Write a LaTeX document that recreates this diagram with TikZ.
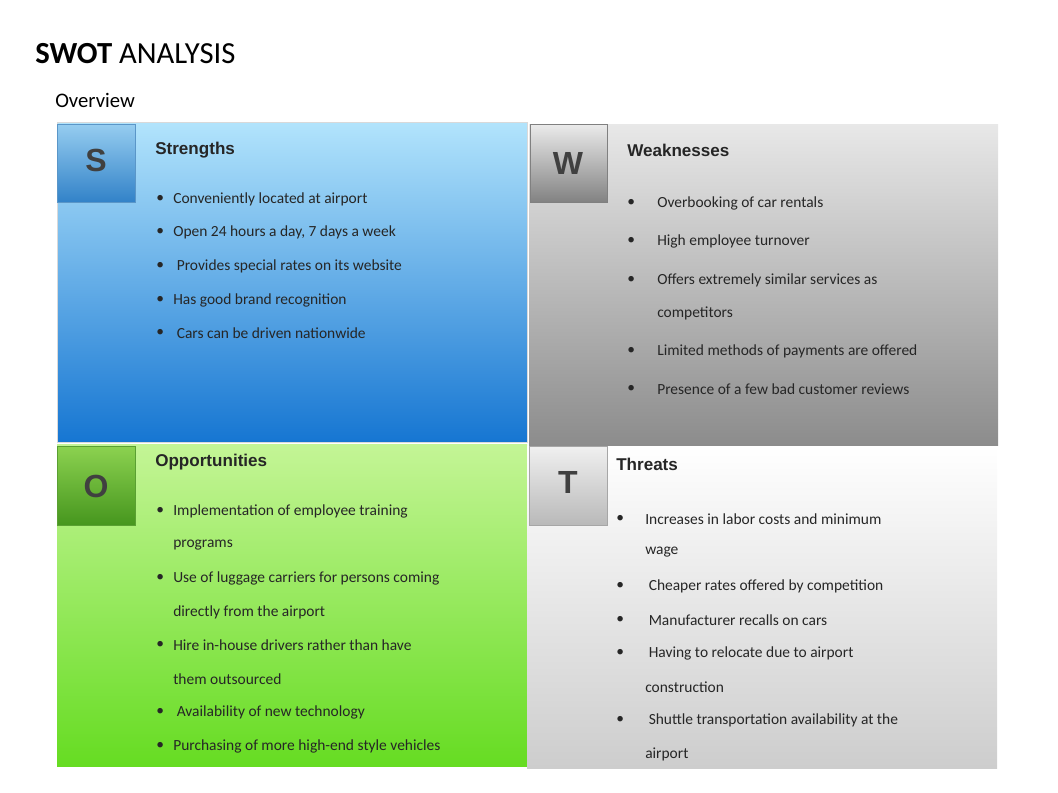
\documentclass[tikz,border=0pt]{standalone}
\usepackage{fontspec}
\setmainfont{Carlito}
\newfontfamily\arial{Liberation Sans}
\begin{document}
\begin{tikzpicture}[x=0.75pt,y=-0.75pt,
  txt/.style={anchor=west,inner sep=0pt,font=\fontsize{11.6}{13}\selectfont,text=black!85},
  hd/.style={anchor=west,inner sep=0pt,font=\arial\bfseries\fontsize{12.8}{14}\selectfont,text=black!85},
  letter/.style={font=\arial\bfseries\fontsize{24}{26}\selectfont,text=black!75}]
\useasboundingbox (0,0) rectangle (1058,793);
% quadrants
\shade[top color={rgb,255:red,178;green,228;blue,252},bottom color={rgb,255:red,22;green,118;blue,210},draw=white!85!black] (57,122) rectangle (527,442);
\shade[top color={rgb,255:red,232;green,232;blue,232},bottom color={rgb,255:red,140;green,140;blue,140}] (529,124) rectangle (998,445);
\shade[top color={rgb,255:red,196;green,245;blue,150},bottom color={rgb,255:red,102;green,220;blue,34}] (57,444) rectangle (527,766);
\shade[top color=white,bottom color={rgb,255:red,205;green,205;blue,205}] (527,446) rectangle (997,768);
% letter boxes
\shade[top color={rgb,255:red,150;green,205;blue,240},bottom color={rgb,255:red,50;green,130;blue,200},draw={rgb,255:red,90;green,150;blue,200}] (57,124) rectangle (135,202);
\shade[top color={rgb,255:red,235;green,235;blue,235},bottom color={rgb,255:red,130;green,130;blue,130},draw=gray] (530,124) rectangle (607,202);
\shade[top color={rgb,255:red,140;green,210;blue,80},bottom color={rgb,255:red,70;green,150;blue,30},draw={rgb,255:red,90;green,160;blue,50}] (57,446) rectangle (135,525);
\shade[top color={rgb,255:red,240;green,240;blue,240},bottom color={rgb,255:red,185;green,185;blue,185},draw=gray!70] (529,446) rectangle (607,525);
\node[letter] (ls) at (96,160) {S};
\node[letter] (lw) at (568,163) {W};
\node[letter] (lo) at (96,486) {O};
\node[letter] (lt) at (568,482) {T};
% title
\node[anchor=west,inner sep=0pt,font=\fontsize{23}{26}\selectfont] (title) at (35,54) {\textbf{SWOT} ANALYSIS};
\node[anchor=west,inner sep=0pt,font=\fontsize{15.5}{18}\selectfont] (ov) at (55,100) {Overview};
% headings
\node[hd] (hs) at (155,150) {Strengths};
\node[hd] (hw) at (627,150) {Weaknesses};
\node[hd] (ho) at (155,462) {Opportunities};
\node[hd] (ht) at (616,464) {Threats};
% S
\foreach \y/\t [count=\i] in {199/Conveniently located at airport,232/{Open 24 hours a day, 7 days a week},266/{\ Provides special rates on its website},300/Has good brand recognition,333/{\ Cars can be driven nationwide}}{
  \node[txt] (sb\i) at (156,\y) {•};
  \node[txt] (s\i) at (173,\y) {\t};}
% W
\foreach \y/\t [count=\i] in {203/Overbooking of car rentals,241/High employee turnover,280/Offers extremely similar services as,351/Limited methods of payments are offered,389/Presence of a few bad customer reviews}{
  \node[txt] (wb\i) at (627,\y) {•};
  \node[txt] (w\i) at (657,\y) {\t};}
\node[txt] (w3b) at (657,313) {competitors};
% O
\foreach \y/\t [count=\i] in {511/Implementation of employee training,578/Use of luggage carriers for persons coming,645/Hire in-house drivers rather than have,712/{\ Availability of new technology},746/Purchasing of more high-end style vehicles}{
  \node[txt] (ob\i) at (156,\y) {•};
  \node[txt] (o\i) at (173,\y) {\t};}
\node[txt] (o1b) at (173,545) {programs};
\node[txt] (o2b) at (173,612) {directly from the airport};
\node[txt] (o3b) at (173,679) {them outsourced};
% T
\foreach \y/\t [count=\i] in {519/Increases in labor costs and minimum,586/{\ Cheaper rates offered by competition},620/{\ Manufacturer recalls on cars},653/{\ Having to relocate due to airport},720/{\ Shuttle transportation availability at the}}{
  \node[txt] (tb\i) at (616,\y) {•};
  \node[txt] (t\i) at (645,\y) {\t};}
\node[txt] (t1b) at (645,552) {wage};
\node[txt] (t4b) at (645,687) {construction};
\node[txt] (t5b) at (645,754) {airport};
\end{tikzpicture}
\end{document}
